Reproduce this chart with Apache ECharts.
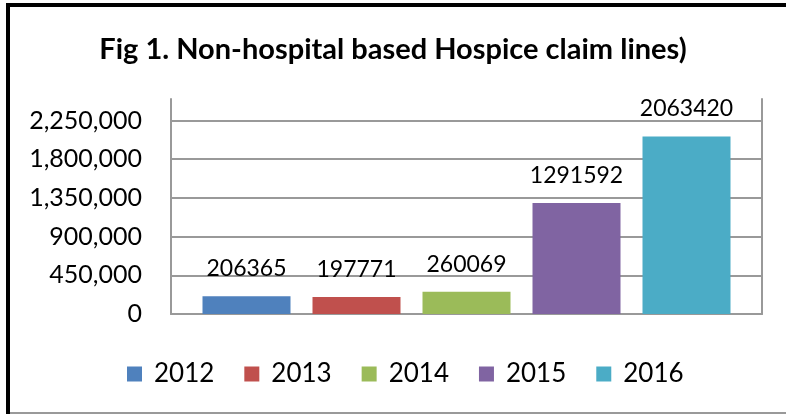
<!DOCTYPE html>
<html>
<head>
<meta charset="utf-8">
<script src="https://cdn.jsdelivr.net/npm/echarts@6/dist/echarts.min.js"></script>
<style>
  html, body { margin: 0; padding: 0; background: #fff; }
  #chart { width: 786px; height: 414px; }
</style>
</head>
<body>
<div id="chart"></div>
<script>
// values
var years = ['2012', '2013', '2014', '2015', '2016']
var claimLines = [206365, 197771, 260069, 1291592, 2063420]
var barColors = ['#4F81BD', '#C0504D', '#9BBB59', '#8064A2', '#4BACC6']
var yMax = 2500000
var yStep = 450000

var font = 'Lato, "Open Sans", sans-serif'

let series = []
for (let i = 0; i < years.length; i++) {
    series.push({
        name: years[i],
        type: 'bar',
        data: [claimLines[i]],
        barWidth: 88,
        barGap: '25%',
        itemStyle: { color: barColors[i] },
        label: {
            show: true,
            position: 'top',
            distance: 16,
            color: '#000',
            fontFamily: font,
            fontSize: 23
        }
    })
}

let myChart = echarts.init(document.getElementById('chart'))
let option = {
    animation: false,
    title: {
        text: 'Fig 1. Non-hospital based Hospice claim lines)',
        left: 'center',
        top: 30,
        textStyle: {
            fontFamily: font,
            fontWeight: 'bold',
            fontSize: 29,
            color: '#000'
        }
    },
    legend: {
        data: years,
        left: 122,
        top: 356,
        icon: 'rect',
        itemWidth: 15,
        itemHeight: 15,
        itemGap: 30,
        textStyle: {
            fontFamily: font,
            fontSize: 26,
            color: '#000',
            padding: [0, 0, 0, 7]
        }
    },
    grid: {
        left: 171,
        right: 24,
        top: 99,
        bottom: 100
    },
    xAxis: {
        type: 'category',
        data: [''],
        axisLine: { lineStyle: { color: '#999', width: 2 } },
        axisTick: { show: false },
        axisLabel: { show: false }
    },
    yAxis: [{
        type: 'value',
        min: 0,
        max: yMax,
        interval: yStep,
        axisLine: { show: true, lineStyle: { color: '#999', width: 2 } },
        axisTick: { show: false },
        axisLabel: {
            margin: 29,
            showMaxLabel: false,
            color: '#000',
            fontFamily: font,
            fontSize: 25,
            formatter: function (v) {
                return v.toLocaleString('en-US')
            }
        },
        splitLine: {
            show: true,
            showMaxLine: false,
            lineStyle: { color: '#999', width: 2 }
        }
    }, {
        // only draws the right border of the plot area
        type: 'value',
        position: 'right',
        min: 0,
        max: yMax,
        interval: yStep,
        axisLine: { show: true, lineStyle: { color: '#999', width: 2 } },
        axisTick: { show: false },
        axisLabel: { show: false },
        splitLine: { show: false }
    }],
    series: series,
    graphic: [
        { type: 'rect', shape: { x: 6, y: 3, width: 4, height: 411 }, style: { fill: '#000' } },
        { type: 'rect', shape: { x: 6, y: 3, width: 780, height: 4 }, style: { fill: '#000' } },
        { type: 'rect', shape: { x: 10, y: 412, width: 776, height: 2 }, style: { fill: '#999' } }
    ]
}

myChart.setOption(option)
</script>
</body>
</html>
